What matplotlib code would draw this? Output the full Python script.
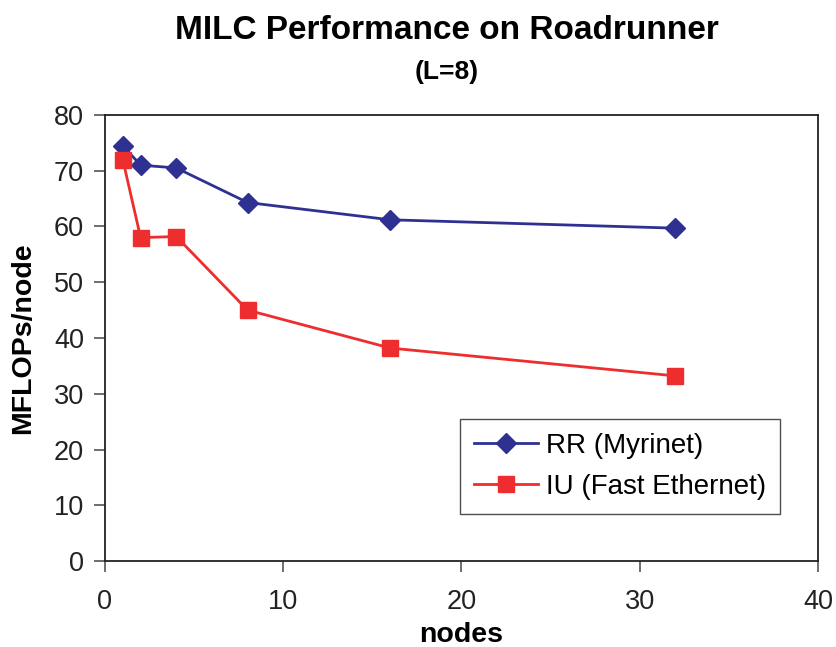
import matplotlib
matplotlib.use("Agg")
import matplotlib.pyplot as plt

plt.rcParams['font.family'] = ['Liberation Sans', 'DejaVu Sans']

nodes = [1, 2, 4, 8, 16, 32]
rr_myrinet = [74.5, 71.0, 70.5, 64.3, 61.2, 59.7]
iu_fast_eth = [72.0, 58.0, 58.2, 45.0, 38.2, 33.2]

blue = '#2E3192'
red = '#ED2D2E'

fig = plt.figure(figsize=(8.37, 6.47), dpi=100)
ax = fig.add_axes([0.1254, 0.1329, 0.8519, 0.6894])

ax.plot(nodes, rr_myrinet, color=blue, lw=2, marker='D', ms=10, label='RR (Myrinet)')
ax.plot(nodes, iu_fast_eth, color=red, lw=2, marker='s', ms=11, label='IU (Fast Ethernet)')

ax.set_xlim(0, 40)
ax.set_ylim(0, 80)
ax.set_xticks(range(0, 41, 10))
ax.set_yticks(range(0, 81, 10))
ax.tick_params(labelsize=19.5, length=8, width=1.2, direction='out', color='#555555',
               labelcolor='#222222')
ax.tick_params(axis='x', pad=12)
ax.tick_params(axis='y', pad=7)
for s in ax.spines.values():
    s.set_linewidth(1.3)
    s.set_color('#222222')

ax.set_xlabel('nodes', fontsize=20.5, fontweight='bold')
ax.xaxis.label.set_verticalalignment('center')
ax.xaxis.set_label_coords(0.5, -0.166)
ax.set_ylabel('MFLOPs/node', fontsize=20.5, fontweight='bold')
ax.yaxis.label.set_rotation_mode('default')
ax.yaxis.label.set_verticalalignment('center')
ax.yaxis.set_label_coords(-0.115, 0.5)

fig.text(0.534, 0.953, 'MILC Performance on Roadrunner', ha='center', va='center',
         fontsize=24, fontweight='bold')
fig.text(0.534, 0.889, '(L=8)', ha='center', va='center', fontsize=19, fontweight='bold')

leg = ax.legend(loc='lower right', bbox_to_anchor=(0.9467, 0.1054), fontsize=20,
                frameon=True, fancybox=False, edgecolor='#222222', handlelength=2.3,
                handletextpad=0.3, borderpad=0.5, labelspacing=0.55, borderaxespad=0)
leg.get_frame().set_linewidth(1.0)

fig.savefig('out.png', dpi=100)
